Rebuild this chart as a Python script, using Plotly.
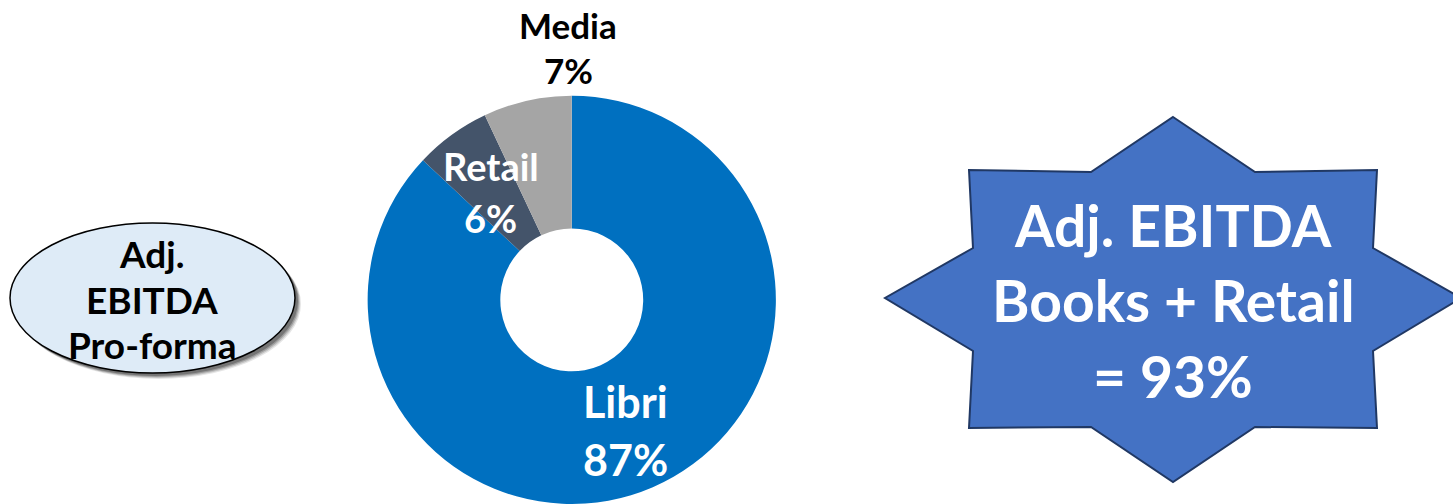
import plotly.graph_objects as go

# Adjusted EBITDA pro-forma split by business segment
segments = ["Libri", "Retail", "Media"]
shares = [87, 6, 7]
colors = ["#0070C0", "#44546A", "#A5A5A5"]

W, H = 1453, 504
FONT = "Lato"

fig = go.Figure()

# invisible trace so the pixel-space axes exist for shapes / annotations
fig.add_trace(go.Scatter(x=[0, W], y=[0, H], mode="markers",
                         marker=dict(opacity=0), hoverinfo="skip", showlegend=False))

fig.add_trace(go.Pie(
    labels=segments, values=shares, sort=False, direction="clockwise",
    rotation=0, hole=0.35, textinfo="none", hoverinfo="label+percent",
    marker=dict(colors=colors, line=dict(width=0)),
    domain=dict(x=[0.1, 0.687], y=[0.0, 0.81]), showlegend=False,
))

annotations = []


def label(x, y, text, size, color):
    annotations.append(dict(
        x=x, y=y, xref="x", yref="y", text=text, showarrow=False,
        xanchor="center", yanchor="middle",
        font=dict(family=FONT, size=size, color=color, weight=700),
    ))


# segment labels: name on one line, share below
seg_style = {
    "Libri": dict(pos=((625, 401), (625, 459)), size=43, color="white"),
    "Retail": dict(pos=((491, 166), (490, 218)), size=38, color="white"),
    "Media": dict(pos=((568, 25), (568, 70)), size=35, color="black"),
}
for name, val in zip(segments, shares):
    st = seg_style[name]
    (x1, y1), (x2, y2) = st["pos"]
    label(x1, y1, name, st["size"], st["color"])
    label(x2, y2, f"{val}%", st["size"], st["color"])

# ellipse call-out on the left
shapes = []
for dx, op in [(6, 0.10), (5, 0.15), (4, 0.2), (3, 0.25)]:
    shapes.append(dict(type="circle", xref="x", yref="y",
                       x0=10 + dx, x1=295 + dx, y0=223 + dx, y1=373 + dx,
                       fillcolor=f"rgba(0,0,0,{op})", line=dict(width=0), layer="below"))
shapes.append(dict(type="circle", xref="x", yref="y", x0=10, x1=295, y0=223, y1=373,
                   fillcolor="#DEEBF7", line=dict(color="black", width=1.5), layer="below"))
for y, t in [(253, "Adj."), (299, "EBITDA"), (344, "Pro-forma")]:
    label(152, y, t, 37, "black")

# eight-pointed star on the right
star = [(1173, 117), (1255, 172), (1377, 170), (1373, 248), (1461, 298),
        (1373, 351), (1377, 428), (1255, 427), (1173, 482), (1091, 427),
        (969, 428), (973, 351), (885, 298), (973, 248), (969, 170), (1091, 172)]
path = "M " + " L ".join(f"{x},{y}" for x, y in star) + " Z"
shapes.append(dict(type="path", xref="x", yref="y", path=path,
                   fillcolor="#4472C4", line=dict(color="#203864", width=2),
                   layer="below"))

books_retail = shares[0] + shares[1]
for y, t in [(225, "Adj. EBITDA"), (300, "Books + Retail"), (376, f"= {books_retail}%")]:
    label(1173, y, t, 57, "white")

fig.update_layout(
    width=W, height=H, margin=dict(l=0, r=0, t=0, b=0),
    paper_bgcolor="white", plot_bgcolor="rgba(0,0,0,0)",
    xaxis=dict(range=[0, W], visible=False, fixedrange=True),
    yaxis=dict(range=[H, 0], visible=False, fixedrange=True),
    shapes=shapes, annotations=annotations, showlegend=False,
)

fig.write_html("out.html", config={"displayModeBar": False})
